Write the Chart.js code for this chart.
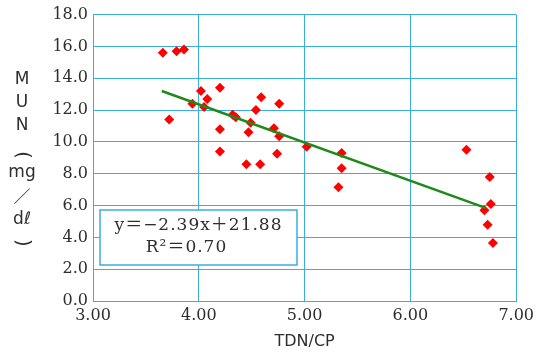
<!DOCTYPE html>
<html>
<head>
<meta charset="utf-8">
<script src="https://cdn.jsdelivr.net/npm/chart.js@4"></script>
<style>
  html, body { margin: 0; padding: 0; background: #fff; }
</style>
</head>
<body>
<canvas id="mun-chart" width="539" height="355"></canvas>
<script>
'use strict';

// data
const tdnCp = [3.66, 3.79, 3.86, 4.02, 4.20, 4.59, 4.76, 3.94, 4.08, 4.05, 4.54,
  3.72, 4.32, 4.35, 4.49, 4.71, 4.20, 4.47, 4.76, 5.02, 5.35, 6.53, 4.20, 4.74,
  4.45, 4.58, 5.35, 6.75, 5.32, 6.76, 6.70, 6.73, 6.78];
const mun = [15.6, 15.7, 15.8, 13.2, 13.4, 12.8, 12.4, 12.4, 12.7, 12.2, 12.0,
  11.4, 11.7, 11.55, 11.2, 10.85, 10.8, 10.6, 10.35, 9.7, 9.3, 9.5, 9.4, 9.25,
  8.6, 8.6, 8.35, 7.8, 7.15, 6.1, 5.7, 4.8, 3.65];

const trendX = [3.65, 6.71];
const trendY = [13.2, 5.85];

const xTicks = [3, 4, 5, 6, 7];
const yTicks = [0, 2, 4, 6, 8, 10, 12, 14, 16, 18];

// vertical title, brackets get turned sideways when drawn
const yTitle = ['M', 'U', 'N', '(', 'mg', '／', 'dℓ', ')'];
const fitText = ['y＝−2.39x＋21.88', 'R²＝0.70'];

const gridBlue = '#3aaee0';
const textCol = '#2e2e2e';

/////////////////////
//// extra text /////

const titleY = [80, 103, 126, 155, 173, 199, 220, 243];

const extras = {
  id: 'extras',
  afterDatasetsDraw(chart) {
    const ctx = chart.ctx;
    const area = chart.chartArea;

    // regression box
    const bx = area.left + 7, by = 210, bw = 197, bh = 55;
    ctx.save();
    ctx.fillStyle = '#fff';
    ctx.fillRect(bx, by, bw, bh);
    ctx.strokeStyle = gridBlue;
    ctx.lineWidth = 1.5;
    ctx.strokeRect(bx, by, bw, bh);
    ctx.fillStyle = textCol;
    ctx.font = '17px "DejaVu Serif", "Noto Sans CJK JP"';
    ctx.textAlign = 'center';
    ctx.textBaseline = 'middle';
    ctx.letterSpacing = '1px';
    ctx.fillText(fitText[0], bx + bw / 2, by + 16);
    ctx.fillText(fitText[1], bx + bw / 2 - 12, by + 38);
    ctx.restore();
  },
  afterDraw(chart) {
    const ctx = chart.ctx;
    ctx.save();
    ctx.fillStyle = textCol;
    ctx.textAlign = 'center';
    ctx.textBaseline = 'middle';
    yTitle.forEach((t, i) => {
      const y = titleY[i];
      if (t === '(' || t === ')') {
        ctx.save();
        ctx.font = '20px "DejaVu Sans"';
        ctx.translate(22, y);
        ctx.rotate(Math.PI / 2);
        ctx.fillText(t, 0, 0);
        ctx.restore();
      } else {
        ctx.font = '17px "DejaVu Sans", "Noto Sans CJK JP"';
        ctx.fillText(t, 22, y);
      }
    });
    ctx.restore();
  }
};

///////////////////////
//// Scatter chart ////

const ctxs = document.getElementById('mun-chart').getContext('2d');
const chart = new Chart(ctxs, {
  type: 'scatter',
  data: {
    datasets: [{
      type: 'line',
      data: trendX.map((x, i) => ({ x: x, y: trendY[i] })),
      borderColor: '#1f8a1a',
      borderWidth: 2.5,
      pointRadius: 0,
      fill: false
    }, {
      data: tdnCp.map((x, i) => ({ x: x, y: mun[i] })),
      pointStyle: 'rectRot',
      pointRadius: 5,
      backgroundColor: '#ff0000',
      borderColor: '#ff0000',
      borderWidth: 0
    }]
  },
  options: {
    responsive: false,
    animation: false,
    devicePixelRatio: 1,
    layout: { padding: { top: 14, right: 22, left: 0, bottom: 0 } },
    plugins: { legend: { display: false }, tooltip: { enabled: false } },
    scales: {
      x: {
        type: 'linear',
        min: 3,
        max: 7,
        afterBuildTicks: s => { s.ticks = xTicks.map(v => ({ value: v })); },
        afterFit: s => { s.height = 54; },
        grid: { color: gridBlue, lineWidth: 1, drawTicks: false },
        border: { color: gridBlue, width: 1 },
        ticks: {
          color: textCol,
          padding: 5,
          font: { family: 'DejaVu Serif', size: 16 },
          callback: v => v.toFixed(2)
        },
        title: {
          display: true,
          text: 'TDN/CP',
          color: textCol,
          font: { family: 'DejaVu Sans', size: 16 },
          padding: { top: 0, bottom: 4 }
        }
      },
      y: {
        min: 0,
        max: 18,
        afterBuildTicks: s => { s.ticks = yTicks.map(v => ({ value: v })); },
        afterFit: s => { s.width = 93; },
        grid: { color: gridBlue, lineWidth: 1, drawTicks: false },
        border: { color: gridBlue, width: 1 },
        ticks: {
          color: textCol,
          padding: 5,
          font: { family: 'DejaVu Serif', size: 16 },
          callback: v => v.toFixed(1)
        }
      }
    }
  },
  plugins: [extras]
});
</script>
</body>
</html>
